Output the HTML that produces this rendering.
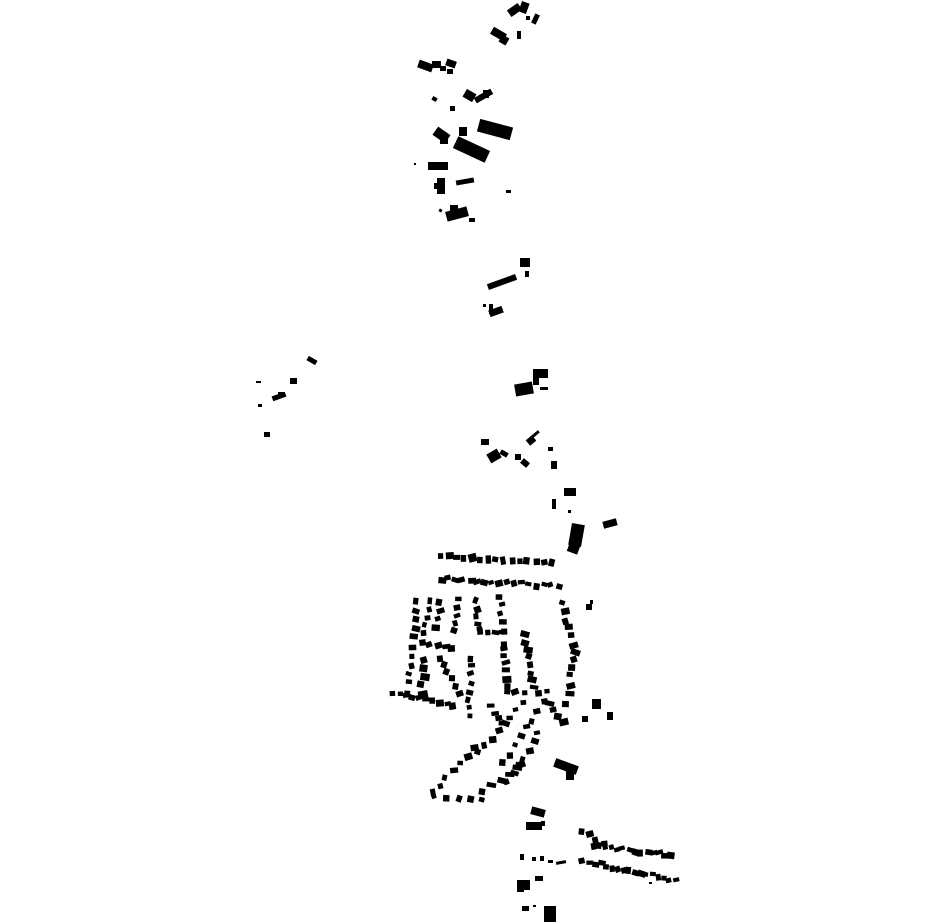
<!DOCTYPE html>
<html><head><meta charset="utf-8"><style>html,body{margin:0;padding:0;background:#fff}svg{display:block}</style></head>
<body>
<svg id="s" width="930" height="924" viewBox="0 0 930 924" xmlns="http://www.w3.org/2000/svg"><g id="g" fill="#000"></g></svg>
<script>
var g=document.getElementById('g');
function r(x,y,w,h,a){var e=document.createElementNS('http://www.w3.org/2000/svg','rect');e.setAttribute('x',x);e.setAttribute('y',y);e.setAttribute('width',w);e.setAttribute('height',h);if(a)e.setAttribute('transform','rotate('+a+' '+(x+w/2)+' '+(y+h/2)+')');g.appendChild(e);}
var B=[
[508,6,13,8,-35],[520,2,8,11,20],[491,30,15,8,30],[500,36,8,8,30],[533,14,5,10,25],[517,31,4,8,0],[526,16,4,4,0],
[418,62,15,8,20],[432,61,9,7,0],[446,60,10,7,20],[447,69,6,5,0],[440,66,6,5,0],
[464,91,11,9,30],[474,93,19,6,-30],[483,90,6,8,0],[432,97,5,4,30],[450,106,5,5,0],
[478,123,34,13,15],[454,143,35,13,25],[434,130,15,10,35],[459,127,8,9,0],[440,138,8,6,0],
[428,162,20,8,0],[414,163,2,2,0],[437,178,8,16,0],[434,183,8,6,0],[456,179,18,5,-10],[506,190,5,3,0],
[446,209,22,10,-15],[450,205,8,6,0],[469,218,6,4,0],[439,209,3,3,30],
[487,279,30,6,-20],[520,258,10,9,0],[525,271,4,6,0],[489,308,14,7,-20],[489,304,4,10,0],[483,304,3,3,0],
[307,358,10,5,30],[290,378,7,6,0],[256,381,5,2,0],[272,394,14,5,-20],[278,392,6,5,0],[258,404,4,3,0],[264,432,6,5,0],
[515,383,18,12,-10],[533,369,15,9,0],[533,375,6,10,0],[540,387,8,3,0],
[481,439,8,6,0],[488,451,12,10,-30],[500,451,8,5,30],[515,454,6,6,0],[521,460,8,6,40],[527,437,8,7,-40],[530,433,10,3,-40],[548,447,5,4,0],[551,461,6,8,0],
[564,488,12,8,0],[552,499,4,10,0],[568,510,3,3,0],[570,524,13,22,10],[568,544,11,9,20],[603,520,14,7,-15],
[586,604,6,6,0],[590,600,3,4,0],[592,699,9,10,0],[607,712,6,8,0],[582,716,6,6,0],
[554,762,24,9,20],[566,768,8,12,0],
[531,808,14,8,15],[526,822,16,8,0],[541,821,4,5,0],
[520,854,4,6,0],[532,857,4,4,0],[540,856,4,5,0],[548,860,5,3,0],[556,861,10,3,-10],
[517,880,13,10,0],[517,890,7,2,0],[535,876,8,5,0],[544,906,12,16,0],[522,906,7,5,0],[533,905,3,2,0]
];
B.forEach(function(b){r.apply(null,b)});
var s=7;function rnd(){s=(s*9301+49297)%233280;return s/233280;}
function line(x1,y1,x2,y2,n,w,h){for(var i=0;i<n;i++){var t=n>1?i/(n-1):0;var x=x1+(x2-x1)*t+(rnd()-.5)*3,y=y1+(y2-y1)*t+(rnd()-.5)*3;r(x,y,w*(.8+rnd()*.6),h*(.8+rnd()*.6),(rnd()-.5)*40);}}
line(438,553,548,560,15,6,6);
line(437,576,556,584,17,6,5);
line(413,598,405,690,11,6,5);
line(390,690,450,702,10,6,5);
line(428,598,420,630,5,5,5);
line(437,600,432,625,4,6,5);
line(455,598,452,628,5,6,5);
line(472,598,476,628,5,6,5);
line(497,595,500,628,5,6,5);
line(478,628,500,630,4,6,5);
line(420,641,448,644,5,6,5);
line(468,655,466,715,8,6,5);
line(420,658,418,690,5,7,6);
line(438,655,455,690,6,6,5);
line(500,640,505,690,8,7,5);
line(520,632,530,685,8,7,5);
line(512,690,545,690,4,6,5);
line(560,600,570,650,7,7,5);
line(570,655,563,700,6,7,5);
line(546,700,558,720,4,7,5);
line(488,705,500,720,4,6,5);
line(520,700,475,750,8,6,5);
line(540,700,500,760,8,6,5);
line(535,730,505,780,7,6,5);
line(520,760,480,790,6,7,5);
line(470,745,430,790,7,6,5);
line(430,795,480,798,5,5,5);
line(578,828,600,840,4,6,5);
line(590,843,668,853,14,6,5);
line(580,858,672,878,17,6,5);
r(649,882,3,2,0);
</script>
</body></html>
